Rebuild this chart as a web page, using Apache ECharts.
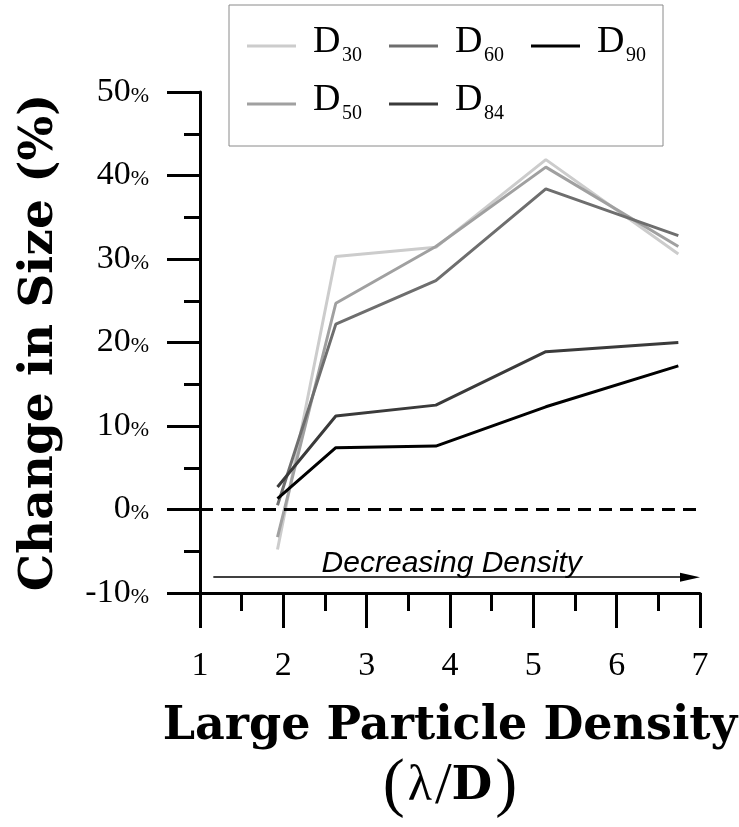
<!DOCTYPE html>
<html>
<head>
<meta charset="utf-8">
<script src="https://cdn.jsdelivr.net/npm/echarts@6/dist/echarts.min.js"></script>
<style>
html,body{margin:0;padding:0;background:#fff;}
#chart{width:739px;height:827px;}
</style>
</head>
<body>
<div id="chart"></div>
<script>
// ---- data ----
const xValues = [1.93, 2.63, 3.83, 5.15, 6.74];
const d30 = [-4.8, 30.3, 31.4, 41.9, 30.6];
const d50 = [-3.3, 24.7, 31.5, 41.0, 31.5];
const d60 = [0.5, 22.2, 27.4, 38.4, 32.8];
const d84 = [2.7, 11.2, 12.5, 18.9, 20.0];
const d90 = [1.3, 7.4, 7.6, 12.3, 17.2];
const seriesNames = ['D30', 'D50', 'D60', 'D84', 'D90'];
const seriesValues = [d30, d50, d60, d84, d90];
const seriesColors = ['#cccccc', '#a0a0a0', '#6e6e6e', '#3a3a3a', '#000000'];
const legendOrder = ['D30', 'D60', 'D90', '\n', 'D50', 'D84'];
const xMin = 1, xMax = 7, xStep = 1;
const yMin = -10, yMax = 50, yStep = 10;
const arrowStart = [1.16, -8.1];
const arrowEnd = [6.88, -8.1];
const arrowText = 'Decreasing Density';
const xTitle = 'Large Particle Density';
const yTitle = 'Change in Size (%)';

const SERIF = '"Liberation Serif", "DejaVu Serif", serif';
const TSERIF = '"DejaVu Serif", serif';

const chart = echarts.init(document.getElementById('chart'), null, {renderer: 'canvas'});

const series = seriesNames.map((name, i) => ({
  name: name,
  type: 'line',
  data: xValues.map((x, j) => [x, seriesValues[i][j]]),
  showSymbol: false,
  symbol: 'none',
  lineStyle: {color: seriesColors[i], width: 3},
  itemStyle: {color: seriesColors[i]},
  z: 3 + i
}));

series[0].markLine = {
  silent: true,
  animation: false,
  symbol: ['none', 'none'],
  data: [
    {
      yAxis: 0,
      symbol: 'none',
      lineStyle: {color: '#000', width: 3, type: [13, 8]},
      label: {show: false}
    },
    [
      {
        coord: arrowStart,
        symbol: 'none',
        lineStyle: {color: '#000', width: 1.5, type: 'solid'},
        label: {
          show: true,
          position: 'insideMiddleTop',
          distance: -2,
          formatter: arrowText,
          fontFamily: '"Liberation Sans", Arial, sans-serif',
          fontStyle: 'italic',
          fontSize: 30,
          color: '#000'
        }
      },
      {coord: arrowEnd, symbol: 'triangle', symbolSize: [9, 20]}
    ]
  ]
};

const option = {
  animation: false,
  backgroundColor: '#fff',
  grid: {left: 200, right: 39, top: 92, bottom: 234, containLabel: false, outerBoundsMode: 'none'},
  legend: {
    left: 229,
    top: 5,
    orient: 'horizontal',
    data: legendOrder,
    icon: 'rect',
    itemWidth: 49,
    itemHeight: 3,
    itemGap: 12,
    padding: [18, 2, 19, 18],
    borderColor: '#8a8a8a',
    borderWidth: 1,
    selectedMode: false,
    formatter: name => '{d|D}{s|' + name.slice(1) + '}',
    textStyle: {
      color: '#000',
      rich: {
        d: {fontFamily: SERIF, fontSize: 38, lineHeight: 40, width: 28, padding: [0, 0, 8, 12], color: '#000'},
        s: {fontFamily: SERIF, fontSize: 20, lineHeight: 20, width: 35, padding: [20, 0, 0, 1], color: '#000'}
      }
    }
  },
  xAxis: {
    type: 'value',
    min: xMin, max: xMax, interval: xStep,
    name: '{t|' + xTitle + '}\n{p|(}{l|λ}{q|/}{b|D}{p|)}',
    nameLocation: 'middle',
    nameGap: 104,
    nameMoveOverlap: false,
    nameTextStyle: {
      rich: {
        t: {fontFamily: TSERIF, fontWeight: 'bold', fontSize: 46, lineHeight: 60, color: '#000'},
        p: {fontFamily: SERIF, fontSize: 66, lineHeight: 60, color: '#000'},
        l: {fontFamily: SERIF, fontSize: 50, lineHeight: 60, color: '#000', padding: [0, 3, 0, 3]},
        q: {fontFamily: SERIF, fontSize: 60, lineHeight: 60, color: '#000'},
        b: {fontFamily: TSERIF, fontWeight: 'bold', fontSize: 47, lineHeight: 60, color: '#000', padding: [0, 3, 0, 0]}
      }
    },
    axisLine: {show: true, onZero: false, lineStyle: {color: '#000', width: 3}},
    axisTick: {show: true, inside: false, length: 35, lineStyle: {color: '#000', width: 3}},
    minorTick: {show: true, splitNumber: 2, length: 18, lineStyle: {color: '#000', width: 3}},
    splitLine: {show: false},
    minorSplitLine: {show: false},
    axisLabel: {margin: 56, fontFamily: SERIF, fontSize: 34, color: '#000'}
  },
  yAxis: {
    type: 'value',
    min: yMin, max: yMax, interval: yStep,
    name: yTitle,
    nameLocation: 'middle',
    nameRotate: 90,
    nameGap: 137,
    nameMoveOverlap: false,
    nameTextStyle: {fontFamily: TSERIF, fontWeight: 'bold', fontSize: 47, lineHeight: 47, color: '#000'},
    axisLine: {show: true, onZero: false, lineStyle: {color: '#000', width: 3}},
    axisTick: {show: true, inside: false, length: 33, lineStyle: {color: '#000', width: 3}},
    minorTick: {show: true, splitNumber: 2, length: 16, lineStyle: {color: '#000', width: 3}},
    splitLine: {show: false},
    minorSplitLine: {show: false},
    axisLabel: {
      margin: 51,
      formatter: v => '{n|' + v + '}{p|%}',
      rich: {
        n: {fontFamily: SERIF, fontSize: 34, color: '#000'},
        p: {fontFamily: SERIF, fontSize: 22, color: '#000', padding: [8, 0, 0, 0]}
      }
    }
  },
  series: series
};

chart.setOption(option);
</script>
</body>
</html>
